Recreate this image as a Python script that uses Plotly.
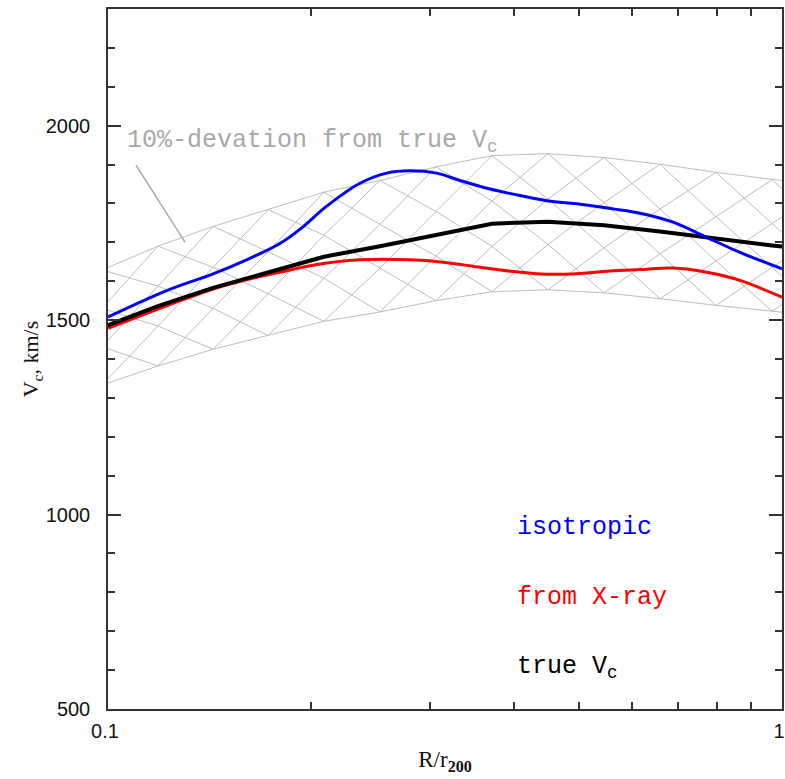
import plotly.graph_objects as go

# ---------------- data ----------------
# grid of the 10%-deviation band (R/r200) and its bounds (km/s)
band_x = [0.0980, 0.1186, 0.1432, 0.1728, 0.2091, 0.2532, 0.3066, 0.3713,
          0.4496, 0.5444, 0.6592, 0.7982, 0.9665, 1.1704]
band_upper = [1629, 1690, 1741, 1784, 1829, 1859, 1894, 1923, 1928, 1918,
              1901, 1880, 1861, 1844]
band_lower = [1333, 1382, 1425, 1460, 1497, 1521, 1550, 1573, 1578, 1570,
              1555, 1538, 1523, 1508]

# true circular velocity
true_x = [0.0980, 0.1186, 0.1432, 0.1728, 0.2091, 0.2532, 0.3066, 0.3713,
          0.4496, 0.5444, 0.6592, 0.7982, 0.9665, 1.1704]
true_v = [1481, 1536, 1583, 1622, 1663, 1690, 1720, 1748, 1753, 1744,
          1728, 1709, 1692, 1676]

# isotropic estimate
iso_x = [0.1, 0.1222, 0.1432, 0.1624, 0.1799, 0.1928, 0.2111, 0.2365, 0.2592,
         0.2806, 0.3073, 0.3329, 0.3688, 0.3991, 0.4477, 0.5016, 0.5614,
         0.6156, 0.6892, 0.7731, 0.8665, 1.0]
iso_v = [1508, 1576, 1619, 1659, 1697, 1734, 1793, 1852, 1878, 1884, 1878,
         1859, 1837, 1824, 1807, 1798, 1786, 1775, 1752, 1713, 1674, 1632]

# estimate from X-ray
xray_x = [0.1, 0.1222, 0.1432, 0.1680, 0.1799, 0.1994, 0.2365, 0.2806,
          0.3141, 0.3563, 0.3991, 0.4477, 0.5016, 0.5614, 0.6156, 0.6892,
          0.7731, 0.8665, 1.0]
xray_v = [1479, 1537, 1580, 1612, 1623, 1640, 1655, 1655, 1649, 1636, 1625,
          1618, 1620, 1627, 1630, 1634, 1623, 1602, 1559]

x_tickvals = [0.1, 1]
x_ticktext = ["0.1", "1"]
x_minor = [0.2, 0.3, 0.4, 0.5, 0.6, 0.7, 0.8, 0.9]
y_tickvals = [500, 1000, 1500, 2000]

# ---------------- figure ----------------
GREY = "#bdbdbd"
fig = go.Figure()

# cross-hatched band: 3 rows of cells, both diagonals of each cell
nrow = 3
hx, hy = [], []
for i in range(len(band_x) - 1):
    for j in range(nrow):
        a0 = band_lower[i] + (band_upper[i] - band_lower[i]) * j / nrow
        a1 = band_lower[i] + (band_upper[i] - band_lower[i]) * (j + 1) / nrow
        b0 = band_lower[i + 1] + (band_upper[i + 1] - band_lower[i + 1]) * j / nrow
        b1 = band_lower[i + 1] + (band_upper[i + 1] - band_lower[i + 1]) * (j + 1) / nrow
        hx += [band_x[i], band_x[i + 1], None, band_x[i], band_x[i + 1], None]
        hy += [a0, b1, None, a1, b0, None]
fig.add_trace(go.Scatter(x=hx, y=hy, mode="lines",
                         line=dict(color=GREY, width=1), hoverinfo="skip",
                         showlegend=False))
fig.add_trace(go.Scatter(x=band_x, y=band_upper, mode="lines",
                         line=dict(color=GREY, width=1), showlegend=False))
fig.add_trace(go.Scatter(x=band_x, y=band_lower, mode="lines",
                         line=dict(color=GREY, width=1), showlegend=False))

fig.add_trace(go.Scatter(x=xray_x, y=xray_v, mode="lines", name="from X-ray",
                         line=dict(color="#ff0000", width=3, shape="spline",
                                   smoothing=0.9), showlegend=False))
fig.add_trace(go.Scatter(x=true_x, y=true_v, mode="lines", name="true Vc",
                         line=dict(color="#000000", width=4), showlegend=False))
fig.add_trace(go.Scatter(x=iso_x, y=iso_v, mode="lines", name="isotropic",
                         line=dict(color="#0000ff", width=3, shape="spline",
                                   smoothing=1.0), showlegend=False))

tickfont = dict(family="Liberation Sans, Arial, sans-serif", size=20, color="#111")
axcol = "#333333"

fig.update_xaxes(
    type="log", range=[-1, 0], automargin=False,
    tickvals=x_tickvals, ticktext=x_ticktext,
    ticks="inside", ticklen=13, tickwidth=1.5, tickcolor=axcol,
    minor=dict(tickvals=x_minor, ticks="inside", ticklen=7, tickwidth=1.5,
               tickcolor=axcol, showgrid=False),
    showline=True, linecolor=axcol, linewidth=1.5, mirror="allticks",
    showgrid=False, zeroline=False, tickfont=tickfont, ticklabelstandoff=3,
    ticklabelshift=-3, ticklabeloverflow="allow",
    title=dict(text="R/r<sub><b>200</b></sub>",
               font=dict(family="Liberation Serif, serif", size=23, color="#111"),
               standoff=10),
)
fig.update_yaxes(
    range=[500, 2300], automargin=False,
    tickvals=y_tickvals,
    ticks="inside", ticklen=13, tickwidth=1.5, tickcolor=axcol,
    minor=dict(dtick=100, ticks="inside", ticklen=7, tickwidth=1.5,
               tickcolor=axcol, showgrid=False),
    showline=True, linecolor=axcol, linewidth=1.5, mirror="allticks",
    showgrid=False, zeroline=False, tickfont=tickfont, ticklabelstandoff=12,
    ticklabeloverflow="allow",
    title=dict(text="V<sub>c</sub>, km/s",
               font=dict(family="Liberation Serif, serif", size=22, color="#111"),
               standoff=1),
)

mono = "Liberation Mono, Courier New, monospace"
annos = [
    dict(text="10%-devation from true V<sub>c</sub>", x=0.0252, y=0.8107,
         color="#a8a8a8"),
    dict(text="isotropic", x=0.6039, y=0.2593, color="#0000ff"),
    dict(text="from X-ray", x=0.6039, y=0.1593, color="#ff0000"),
    dict(text="true V<sub>c</sub>", x=0.6039, y=0.06, color="#000000"),
]
for a in annos:
    fig.add_annotation(text=a["text"], x=a["x"], y=a["y"], xref="paper",
                       yref="paper", xanchor="left", yanchor="middle",
                       showarrow=False,
                       font=dict(family=mono, size=25, color=a["color"]))

# pointer from the band label to the band
fig.add_shape(type="line", xref="paper", yref="paper",
              x0=0.0415, y0=0.7771, x1=0.1142, y1=0.6671,
              line=dict(color="#a8a8a8", width=1.5))

fig.update_layout(
    width=785, height=779,
    margin=dict(l=108, r=3, t=9, b=70, autoexpand=False),
    plot_bgcolor="white", paper_bgcolor="white",
    showlegend=False,
)

fig.write_html("out.html")
